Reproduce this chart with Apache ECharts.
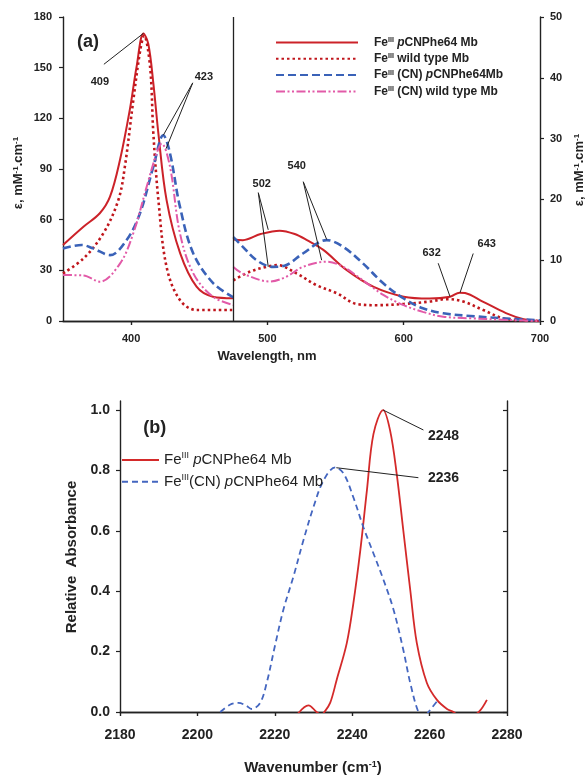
<!DOCTYPE html>
<html><head><meta charset="utf-8">
<script src="https://cdn.jsdelivr.net/npm/echarts@6/dist/echarts.min.js"></script>
<style>html,body{margin:0;padding:0;background:#fff}#c{width:587px;height:777px}</style>
</head><body><div id="c"></div>
<script>
const FONT = '"Liberation Sans", Arial, Helvetica, sans-serif';
// ---------- Panel (a): UV-vis, [wavelength nm, epsilon mM-1 cm-1] ----------
// left part (350-475 nm) on the 0-180 axis
const aSolidLeft = [[350,45],[365,55.8],[377,63.8],[384.5,73.6],[391.8,95.3],[399,125],[404,150.6],[409,170.3],[412.6,164],[416.3,140.7],[420,111],[426,71.6],[436,40],[448,20.3],[460,14.4],[475,13.5]];
const aDotLeft = [[350,28.2],[365,37],[379.6,51.9],[390.6,71.6],[395.4,91.4],[401.6,130.8],[406.7,160.4],[409.5,169],[413.9,150.6],[416.3,111],[420,71.6],[426,32],[435.8,12.4],[448,6.5],[475,6.5]];
const aDashLeft = [[350,43],[363.7,45],[372,43],[384.5,39],[396.7,48],[406.5,63.8],[416.3,91.4],[423.6,110],[428.5,99.3],[435.8,67.7],[445.6,40],[460.3,22.3],[475,14]];
const aDashDotLeft = [[350,27.2],[365,27],[377,23.3],[391.8,34],[401.6,52],[411.4,79.5],[418.7,99.3],[422.4,105],[428.5,91.4],[435.8,52],[445.6,28.2],[460,14.4],[475,9.5]];
// right part (475-700 nm) on the 0-50 axis
const aSolidRight = [[475,13.4],[482,13.3],[495,14.3],[509,14.85],[520,14.3],[529,13.3],[541,11.7],[558,8.4],[578,5.6],[600,4.0],[619,3.7],[634,4.0],[641,4.66],[645,4.6],[658,3.2],[675,1.3],[688,0.3],[700,0]];
const aDotRight = [[475,6.7],[487,8.1],[499,8.9],[507,9.2],[521.5,7.8],[536,5.9],[551,4.55],[565.5,2.8],[580,2.6],[600,2.8],[619,3.2],[631.5,3.6],[643.7,3.2],[658.4,1.8],[673,0.44],[688,0.1],[700,0]];
const aDashRight = [[475,13.8],[482,12.2],[492,10],[504,8.9],[514,9.2],[526,11.1],[543.5,13.3],[555.6,12.2],[570,9.5],[585,6.2],[600,3.7],[614,2.1],[629,1.26],[649,0.82],[673,0.44],[700,0.1]];
const aDashDotRight = [[475,8.9],[482,7.8],[502,6.5],[514,7.3],[526,8.9],[543.5,9.75],[555.6,8.9],[570,6.7],[585,4.3],[600,2.6],[614,1.5],[629,0.7],[649,0.44],[673,0.2],[700,0]];
const aXTicks = [400,500,600,700];
const aBreak = 475;
// ---------- Panel (b): IR, [wavenumber cm-1, relative absorbance] ----------
const bFe = [[2226,-0.005],[2228.7,0.022],[2230.8,0.0],[2232,-0.01],[2232.8,0],[2234.3,0.03],[2236,0.107],[2238.6,0.228],[2240.3,0.36],[2242.1,0.536],[2243.8,0.734],[2245.5,0.921],[2248,1.0],[2249.8,0.932],[2251.5,0.789],[2253.2,0.602],[2255,0.404],[2256.7,0.228],[2259.3,0.096],[2261.9,0.04],[2264.5,0.01],[2266.2,0],[2269,-0.03],[2272.7,0],[2274.8,0.04]];
const bCN = [[2205.9,0],[2208.4,0.024],[2210.6,0.03],[2212.5,0.022],[2214,0.01],[2216.2,0.03],[2217.9,0.096],[2220,0.217],[2222.2,0.338],[2224.8,0.448],[2227.4,0.569],[2230,0.679],[2232.6,0.767],[2235.6,0.81],[2237.8,0.789],[2240.3,0.711],[2242.9,0.612],[2245.5,0.525],[2248.1,0.437],[2250.7,0.338],[2253.2,0.206],[2255,0.096],[2257.1,0],[2258.5,-0.02],[2259.7,0],[2261.9,0.035]];
const bYTicks = [0,0.2,0.4,0.6,0.8,1.0];
// ---------- annotations (data coordinates) ----------
const aLeftLeaders = [[[380,152],[409,170.3]],[[445.2,141],[423.6,110]],[[445.2,141],[425.6,102]]];
const aLeftLabels = [['409',377.1,141.5],['423',453.4,144.5]];
const aRightLeaders = [[[493.3,21.1],[500.6,15.0]],[[493.3,21.1],[500.6,8.9]],[[526.3,22.9],[543.5,13.4]],[[526.3,22.9],[539.8,10.0]],[[625.3,9.5],[634,4.0]],[[651,11.1],[641.3,4.65]]];
const aRightLabels = [['502',495.8,22.6],['540',521.5,25.5],['632',620.5,11.2],['643',660.9,12.6]];
const bLeaders = [[[2248,1.0],[2258.4,0.934]],[[2235.9,0.809],[2257.1,0.776]]];
const bLabels = [['2248',2263.6,0.915],['2236',2263.6,0.776]];

const C = {red:'#cc2229', dred:'#c0161c', blue:'#3a62b8', pink:'#e25aa8', bred:'#d42a2a', bblue:'#4466c0', ink:'#222'};
const AX = {lineStyle:{color:C.ink,width:1.4}};

const legendNamesA = {
  a1:'{g|}{n|Fe}{s|III} {i|p}{n|CNPhe64 Mb}',
  a2:'{g|}{n|Fe}{s|III} {n|wild type Mb}',
  a3:'{g|}{n|Fe}{s|III} {n|(CN) }{i|p}{n|CNPhe64Mb}',
  a4:'{g|}{n|Fe}{s|III} {n|(CN) wild type Mb}'
};
const legendNamesB = {
  b1:'{n|Fe}{s|III} {i|p}{n|CNPhe64 Mb}',
  b2:'{n|Fe}{s|III}{n|(CN) }{i|p}{n|CNPhe64 Mb}'
};

function ser(name, data, yIdx, color, width, type, xIdx){
  return {name, type:'line', data, xAxisIndex:xIdx||0, yAxisIndex:yIdx, symbol:'none', smooth:0.35,
    lineStyle:{color, width, type, cap:'butt'}, itemStyle:{color}, emphasis:{disabled:true}, clip:true, z:3};
}
const dotT=[2.5,3], dashT=[8,4], ddT=[9,2.5,2,2.5,2,2.5];
const series = [
  ser('a1', aSolidLeft, 0, C.red, 2, 'solid'),
  ser('a2', aDotLeft, 0, C.dred, 2.6, dotT),
  ser('a3', aDashLeft, 0, C.blue, 2.6, dashT),
  ser('a4', aDashDotLeft, 0, C.pink, 2, ddT),
  ser('a1', aSolidRight, 1, C.red, 2, 'solid'),
  ser('a2', aDotRight, 1, C.dred, 2.6, dotT),
  ser('a3', aDashRight, 1, C.blue, 2.6, dashT),
  ser('a4', aDashDotRight, 1, C.pink, 2, ddT),
  ser('b1', bFe, 2, C.bred, 1.8, 'solid', 2),
  ser('b2', bCN, 2, C.bblue, 1.8, [6,4], 2)
];
series[0].markLine = {symbol:'none', silent:true, animation:false, label:{show:false},
  lineStyle:{color:C.ink, type:'solid', width:1.3}, data:[{xAxis:aBreak}]};

const lblA = {color:C.ink, fontFamily:FONT, fontWeight:'bold', fontSize:11};
const lblB = {color:C.ink, fontFamily:FONT, fontWeight:'bold', fontSize:14};
const option = {
  animation:false,
  backgroundColor:'#fff',
  grid:[{left:63, top:17, width:477, height:304}, {left:120, top:401, width:387, height:311}],
  xAxis:[
    {gridIndex:0, type:'value', min:350, max:700, position:'bottom', axisLine:AX, splitLine:{show:false},
      axisTick:{customValues:aXTicks, length:4, inside:false, lineStyle:{color:C.ink,width:1.2}},
      axisLabel:Object.assign({customValues:aXTicks, margin:12}, lblA)},
    {gridIndex:0, type:'value', min:350, max:700, position:'top', axisLine:AX, splitLine:{show:false},
      axisTick:{customValues:aXTicks, length:4, inside:true, lineStyle:{color:C.ink,width:1.2}}, axisLabel:{show:false}},
    {gridIndex:1, type:'value', min:2180, max:2280, interval:20, position:'bottom', axisLine:AX, splitLine:{show:false},
      axisTick:{length:4, lineStyle:{color:C.ink,width:1.2}},
      axisLabel:Object.assign({margin:16, formatter:v=>String(v)}, lblB)},
    {gridIndex:1, type:'value', min:2180, max:2280, interval:20, position:'top', axisLine:AX, splitLine:{show:false},
      axisTick:{length:4, inside:true, lineStyle:{color:C.ink,width:1.2}}, axisLabel:{show:false}}
  ],
  yAxis:[
    {gridIndex:0, type:'value', min:0, max:180, interval:30, position:'left', axisLine:Object.assign({show:true},AX), splitLine:{show:false},
      axisTick:{show:true, length:4, lineStyle:{color:C.ink,width:1.2}}, axisLabel:Object.assign({margin:11}, lblA)},
    {gridIndex:0, type:'value', min:0, max:50, interval:10, position:'right', axisLine:Object.assign({show:true},AX), splitLine:{show:false},
      axisTick:{show:true, length:4, lineStyle:{color:C.ink,width:1.2}}, axisLabel:Object.assign({margin:10}, lblA)},
    {gridIndex:1, type:'value', min:0, max:1.03, position:'left', axisLine:Object.assign({show:true},AX), splitLine:{show:false},
      axisTick:{show:true, customValues:bYTicks, length:4, lineStyle:{color:C.ink,width:1.2}},
      axisLabel:Object.assign({customValues:bYTicks, margin:10, formatter:v=>v.toFixed(1)}, lblB)},
    {gridIndex:1, type:'value', min:0, max:1.03, position:'right', axisLine:Object.assign({show:true},AX), splitLine:{show:false},
      axisTick:{show:true, customValues:bYTicks, length:4, inside:true, lineStyle:{color:C.ink,width:1.2}}, axisLabel:{show:false}}
  ],
  legend:[
    {data:['a1','a2','a3','a4'], orient:'vertical', left:275, top:36.5, padding:0, itemWidth:82, itemHeight:12, itemGap:4.3,
      selectedMode:false, formatter:n=>legendNamesA[n], itemStyle:{opacity:0},
      textStyle:{color:C.ink, fontFamily:FONT, fontSize:12, fontWeight:'bold',
        rich:{g:{width:11}, n:{fontFamily:FONT,fontSize:12,fontWeight:'bold',lineHeight:12,color:C.ink},
          i:{fontFamily:FONT,fontSize:12,fontWeight:'bold',fontStyle:'italic',lineHeight:12,color:C.ink},
          s:{fontFamily:FONT,fontSize:7,fontWeight:'bold',verticalAlign:'top',lineHeight:12,color:C.ink}}}},
    {data:['b1','b2'], orient:'vertical', left:121, top:451, padding:0, itemWidth:37, itemHeight:14, itemGap:5.2,
      selectedMode:false, formatter:n=>legendNamesB[n], itemStyle:{opacity:0},
      textStyle:{color:C.ink, fontFamily:FONT, fontSize:15,
        rich:{n:{fontFamily:FONT,fontSize:15,lineHeight:18,color:C.ink},
          i:{fontFamily:FONT,fontSize:15,fontStyle:'italic',lineHeight:18,color:C.ink},
          s:{fontFamily:FONT,fontSize:9,verticalAlign:'top',lineHeight:18,color:C.ink}}}}
  ],
  series
};
const chart = echarts.init(document.getElementById('c'), null, {renderer:'canvas'});
chart.setOption(option);

// annotations placed through the chart's own scales
const g = [];
function px(si, p){ return chart.convertToPixel({seriesIndex:si}, p); }
function leaders(si, arr){ arr.forEach(([p1,p2])=>{ const a=px(si,p1), b=px(si,p2);
  g.push({type:'line', shape:{x1:a[0],y1:a[1],x2:b[0],y2:b[1]}, style:{stroke:C.ink, lineWidth:1}, z:10}); }); }
function labels(si, arr, size, weight){ arr.forEach(([t,x,y])=>{ const q=px(si,[x,y]);
  g.push({type:'text', x:q[0], y:q[1], style:{text:t, fill:C.ink, font:weight+' '+size+'px '+FONT, align:'center', verticalAlign:'middle'}, z:10}); }); }
leaders(0, aLeftLeaders); labels(0, aLeftLabels, 11, 'bold');
leaders(4, aRightLeaders); labels(4, aRightLabels, 11, 'bold');
leaders(8, bLeaders); labels(8, bLabels, 14, 'bold');
labels(0, [['(a)',368.3,165.2]], 18, 'bold');
labels(8, [['(b)',2189,0.939]], 18, 'bold');

const richAxis = (fs)=>({n:{fontFamily:FONT,fontSize:fs,fontWeight:'bold',fill:C.ink},
  s:{fontFamily:FONT,fontSize:Math.round(fs*0.62),fontWeight:'bold',verticalAlign:'top',fill:C.ink}});
g.push({type:'text', x:267, y:356, style:{text:'Wavelength, nm', fill:C.ink, font:'bold 13px '+FONT, align:'center', verticalAlign:'middle'}});
g.push({type:'text', x:18, y:173, rotation:Math.PI/2, style:{text:'{n|ε, mM}{s|-1}{n|.cm}{s|-1}', rich:richAxis(13), align:'center', verticalAlign:'middle'}});
g.push({type:'text', x:579, y:170, rotation:Math.PI/2, style:{text:'{n|ε, mM}{s|-1}{n|.cm}{s|-1}', rich:richAxis(13), align:'center', verticalAlign:'middle'}});
g.push({type:'text', x:313, y:768, style:{text:'{n|Wavenumber (cm}{s|-1}{n|)}', rich:richAxis(15), align:'center', verticalAlign:'middle'}});
g.push({type:'text', x:72, y:557, rotation:Math.PI/2, style:{text:'Relative  Absorbance', fill:C.ink, font:'bold 15px '+FONT, align:'center', verticalAlign:'middle'}});
chart.setOption({graphic:g});
</script></body></html>
